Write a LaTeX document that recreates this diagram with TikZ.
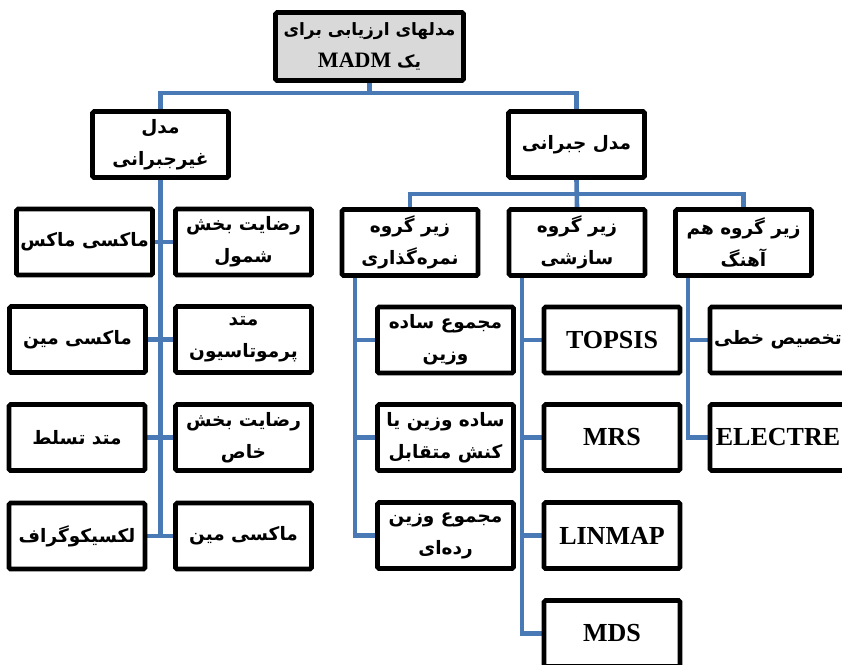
\documentclass[tikz,border=0pt]{standalone}
\usepackage{fontspec}
\setmainfont{Liberation Serif}
\newfontfamily\fa[Script=Arabic]{DejaVu Sans}
\TeXXeTstate=1
\usetikzlibrary{backgrounds}
\definecolor{lineblue}{HTML}{4A7AB5}
\definecolor{topgray}{HTML}{D9D9D9}
\newcommand\fl[1]{\beginR#1\endR}
\tikzset{
  box/.style={draw=black, line width=4.6pt, rounded corners=1.5pt, fill=white,
    minimum width=136pt, minimum height=66pt, inner sep=0pt, align=center,
    font=\fa\bfseries\fontsize{18.5}{32}\selectfont},
  lat/.style={font=\bfseries\fontsize{26}{30}\selectfont},
  conn/.style={draw=lineblue, line width=4.6pt}
}
\begin{document}
\begin{tikzpicture}[x=1pt,y=-1pt]
\useasboundingbox (0,0) rectangle (842,664);
% top
\node[box, fill=topgray, minimum width=188pt, minimum height=68pt,
  font=\fa\bfseries\fontsize{17}{32}\selectfont] (top) at (369.5,46.5)
  {\fl{مدلهای ارزیابی برای}\\\fl{یک \beginL{\rmfamily\bfseries\fontsize{22}{26}\selectfont MADM}\endL}};
\node[box] (nc) at (160.5,144.5) {\fl{مدل}\\\fl{غیرجبرانی}};
\node[box] (cp) at (576.5,144.5) {\fl{مدل جبرانی}};
% left column
\node[box] (l1) at (84.5,242) {\fl{ماکسی ماکس}};
\node[box] (r1) at (243.5,242) {\fl{رضایت بخش}\\\fl{شمول}};
\node[box] (l2) at (77.5,339.5) {\fl{ماکسی مین}};
\node[box] (r2) at (243.5,339.5) {\fl{متد}\\\fl{پرموتاسیون}};
\node[box] (l3) at (77,437.5) {\fl{متد تسلط}};
\node[box] (r3) at (243.5,437.5) {\fl{رضایت بخش}\\\fl{خاص}};
\node[box] (l4) at (77,536) {\fl{لکسیکوگراف}};
\node[box] (r4) at (243.5,536) {\fl{ماکسی مین}};
% subgroups
\node[box] (g1) at (410,242.5) {\fl{زیر گروه}\\\fl{نمره^^^^200cگذاری}};
\node[box] (g2) at (577,242.5) {\fl{زیر گروه}\\\fl{سازشی}};
\node[box] (g3) at (743.5,242.5) {\fl{زیر گروه هم}\\\fl{آهنگ}};
% g1 children
\node[box] (a1) at (445.5,340) {\fl{مجموع ساده}\\\fl{وزین}};
\node[box] (a2) at (445.5,437.5) {\fl{ساده وزین یا}\\\fl{کنش متقابل}};
\node[box] (a3) at (445.5,535.5) {\fl{مجموع وزین}\\\fl{رده^^^^200cای}};
% g2 children
\node[box, lat] (b1) at (612,340) {TOPSIS};
\node[box, lat] (b2) at (612,437.5) {MRS};
\node[box, lat] (b3) at (612,535.5) {LINMAP};
\node[box, lat] (b4) at (612,633.5) {MDS};
% g3 children
\node[box] (c1) at (778,340) {\fl{تخصیص خطی}};
\node[box, lat] (c2) at (778,437.5) {ELECTRE};
% connectors
\coordinate (bar1) at (369.5,93);
\coordinate (bar2) at (577,194);
\begin{pgfonlayer}{background}
\draw[conn] (top.south) -- (bar1);
\draw[conn] (nc.north) |- (bar1) -| (cp.north);
\draw[conn] (cp.south) -- (g2.north);
\draw[conn] (g1.north) |- (bar2) -| (g3.north);
\draw[conn] (nc.south) -- (nc.south |- l4.east);
\draw[conn] (l1.east) -- (r1.west);
\draw[conn] (l2.east) -- (r2.west);
\draw[conn] (l3.east) -- (r3.west);
\draw[conn] (l4.east) -- (r4.west);
\draw[conn] ([xshift=-55pt]g1.south) |- (a3.west);
\draw[conn] ([xshift=-55pt]g1.south |- a1.west) -- (a1.west);
\draw[conn] ([xshift=-55pt]g1.south |- a2.west) -- (a2.west);
\draw[conn] ([xshift=-55pt]g2.south) |- (b4.west);
\draw[conn] ([xshift=-55pt]g2.south |- b1.west) -- (b1.west);
\draw[conn] ([xshift=-55pt]g2.south |- b2.west) -- (b2.west);
\draw[conn] ([xshift=-55pt]g2.south |- b3.west) -- (b3.west);
\draw[conn] ([xshift=-55.5pt]g3.south) |- (c2.west);
\draw[conn] ([xshift=-55.5pt]g3.south |- c1.west) -- (c1.west);
\end{pgfonlayer}
\end{tikzpicture}
\end{document}
